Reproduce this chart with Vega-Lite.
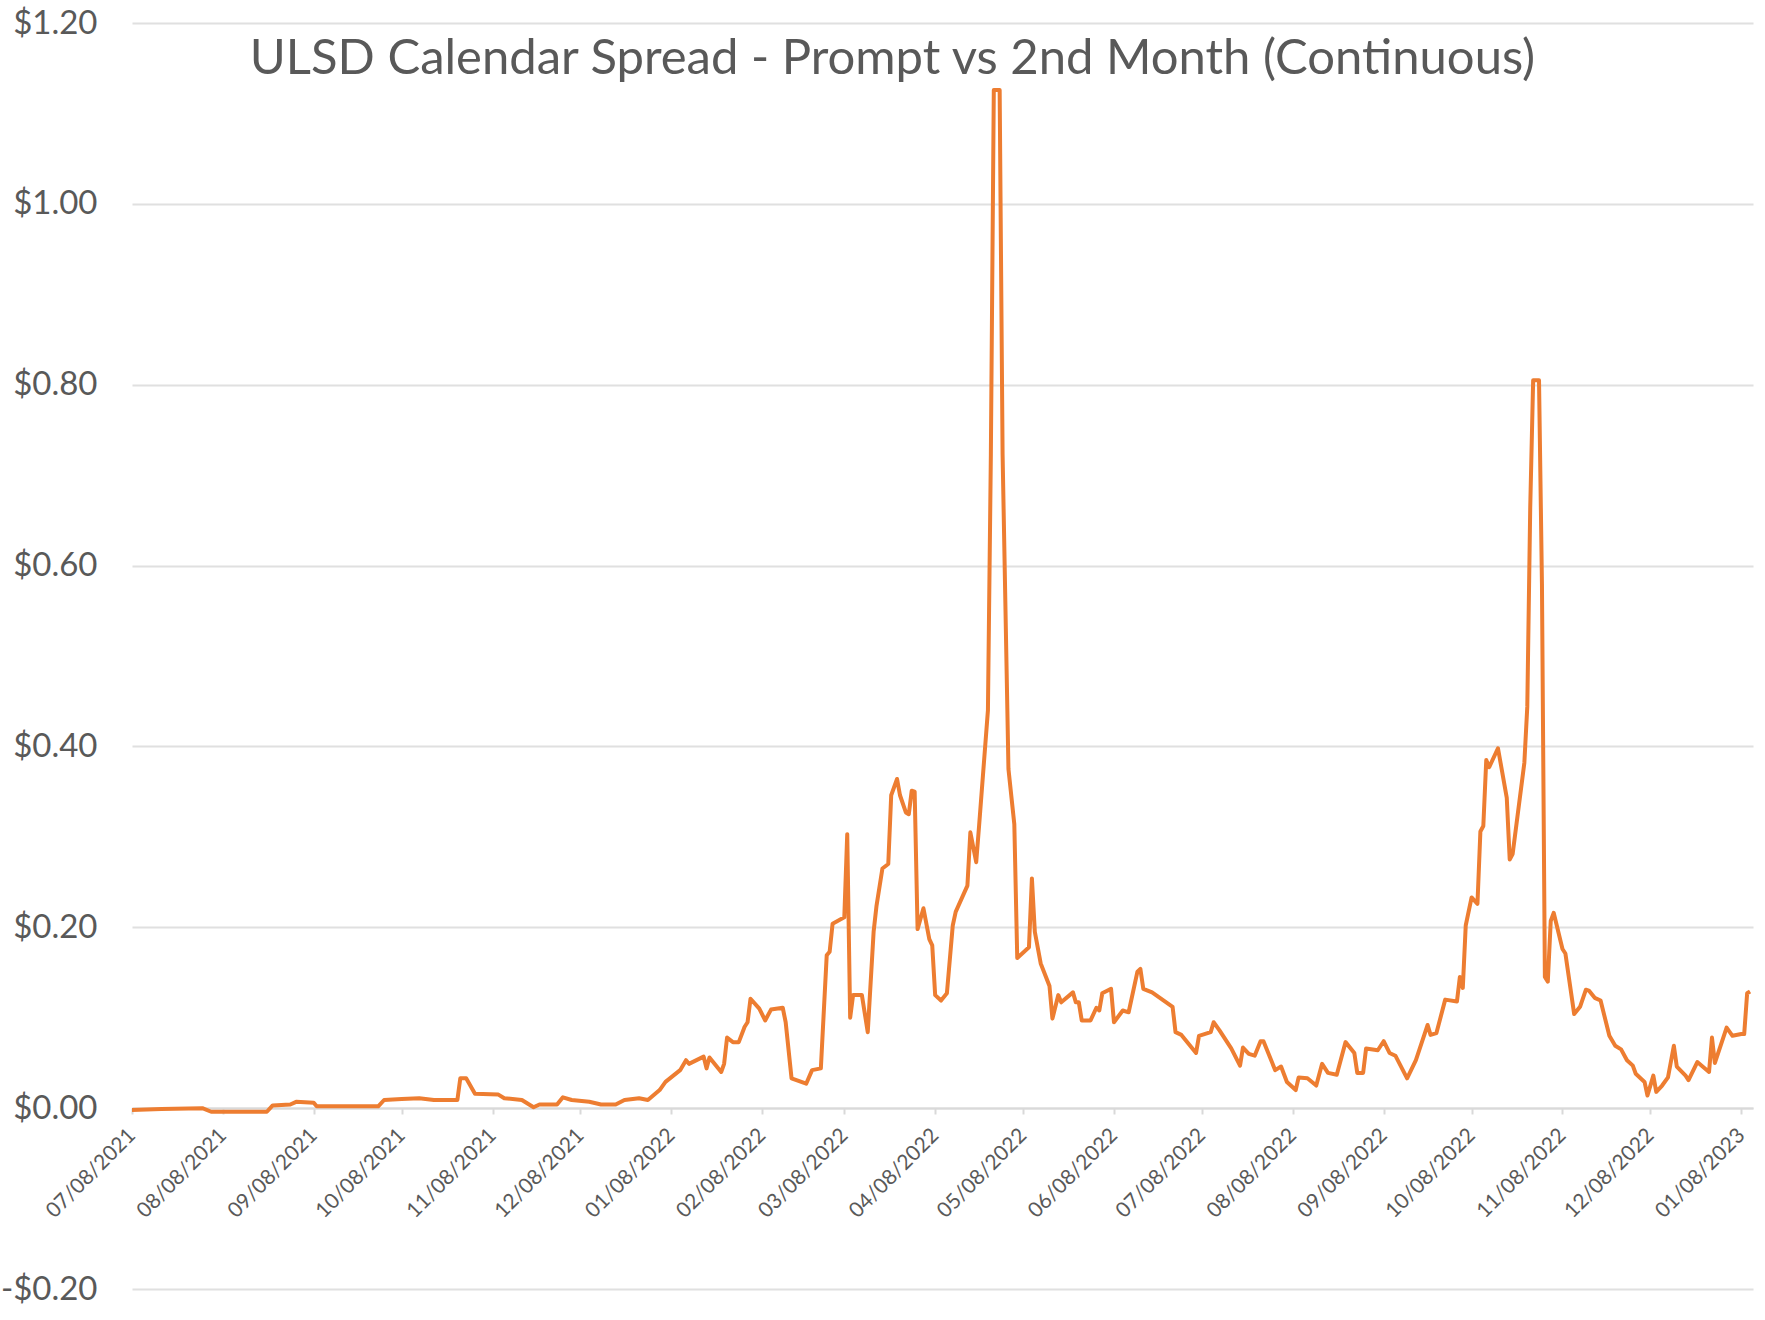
{
  "$schema": "https://vega.github.io/schema/vega-lite/v6.json",
  "autosize": "none",
  "padding": {"left": 132, "top": 23, "right": 12, "bottom": 31},
  "width": 1621,
  "height": 1266,
  "background": "white",
  "title": {
    "text": "ULSD Calendar Spread - Prompt vs 2nd Month (Continuous)",
    "anchor": "middle",
    "frame": "group",
    "dx": -50,
    "dy": 116,
    "offset": 0,
    "baseline": "alphabetic",
    "font": "Lato",
    "fontSize": 49,
    "fontWeight": "normal",
    "color": "#595959"
  },
  "data": {
    "values": [
      {"d": "2021-07-08", "v": -0.002}, {"d": "2021-07-18", "v": -0.001}, {"d": "2021-08-01", "v": 0.0},
      {"d": "2021-08-04", "v": -0.004}, {"d": "2021-08-16", "v": -0.004}, {"d": "2021-08-23", "v": -0.004},
      {"d": "2021-08-25", "v": 0.003}, {"d": "2021-08-31", "v": 0.004}, {"d": "2021-09-02", "v": 0.007},
      {"d": "2021-09-08", "v": 0.006}, {"d": "2021-09-09", "v": 0.002}, {"d": "2021-09-30", "v": 0.002},
      {"d": "2021-10-02", "v": 0.009}, {"d": "2021-10-08", "v": 0.010}, {"d": "2021-10-14", "v": 0.011},
      {"d": "2021-10-19", "v": 0.009}, {"d": "2021-10-27", "v": 0.009}, {"d": "2021-10-28", "v": 0.033},
      {"d": "2021-10-30", "v": 0.033}, {"d": "2021-11-02", "v": 0.016}, {"d": "2021-11-10", "v": 0.015},
      {"d": "2021-11-12", "v": 0.011}, {"d": "2021-11-18", "v": 0.009}, {"d": "2021-11-22", "v": 0.001},
      {"d": "2021-11-24", "v": 0.004}, {"d": "2021-11-30", "v": 0.004}, {"d": "2021-12-02", "v": 0.012},
      {"d": "2021-12-05", "v": 0.009}, {"d": "2021-12-11", "v": 0.007}, {"d": "2021-12-15", "v": 0.004},
      {"d": "2021-12-20", "v": 0.004}, {"d": "2021-12-23", "v": 0.009}, {"d": "2021-12-28", "v": 0.011},
      {"d": "2021-12-31", "v": 0.009}, {"d": "2022-01-04", "v": 0.020}, {"d": "2022-01-06", "v": 0.029},
      {"d": "2022-01-11", "v": 0.042}, {"d": "2022-01-13", "v": 0.053}, {"d": "2022-01-14", "v": 0.049},
      {"d": "2022-01-19", "v": 0.057}, {"d": "2022-01-20", "v": 0.044}, {"d": "2022-01-21", "v": 0.056},
      {"d": "2022-01-25", "v": 0.040}, {"d": "2022-01-26", "v": 0.049}, {"d": "2022-01-27", "v": 0.078},
      {"d": "2022-01-29", "v": 0.073}, {"d": "2022-01-31", "v": 0.073}, {"d": "2022-02-02", "v": 0.090},
      {"d": "2022-02-03", "v": 0.095}, {"d": "2022-02-04", "v": 0.121}, {"d": "2022-02-07", "v": 0.110},
      {"d": "2022-02-09", "v": 0.097}, {"d": "2022-02-11", "v": 0.109}, {"d": "2022-02-15", "v": 0.111},
      {"d": "2022-02-16", "v": 0.095}, {"d": "2022-02-18", "v": 0.033}, {"d": "2022-02-23", "v": 0.027},
      {"d": "2022-02-25", "v": 0.042}, {"d": "2022-02-28", "v": 0.044}, {"d": "2022-03-02", "v": 0.169},
      {"d": "2022-03-03", "v": 0.173}, {"d": "2022-03-04", "v": 0.204}, {"d": "2022-03-08", "v": 0.211},
      {"d": "2022-03-09", "v": 0.303}, {"d": "2022-03-10", "v": 0.100}, {"d": "2022-03-11", "v": 0.125},
      {"d": "2022-03-14", "v": 0.125}, {"d": "2022-03-16", "v": 0.084}, {"d": "2022-03-18", "v": 0.195},
      {"d": "2022-03-19", "v": 0.224}, {"d": "2022-03-21", "v": 0.265}, {"d": "2022-03-23", "v": 0.270},
      {"d": "2022-03-24", "v": 0.346}, {"d": "2022-03-26", "v": 0.364}, {"d": "2022-03-27", "v": 0.346},
      {"d": "2022-03-29", "v": 0.327}, {"d": "2022-03-30", "v": 0.325}, {"d": "2022-03-31", "v": 0.351},
      {"d": "2022-04-01", "v": 0.350}, {"d": "2022-04-02", "v": 0.198}, {"d": "2022-04-04", "v": 0.221},
      {"d": "2022-04-06", "v": 0.187}, {"d": "2022-04-07", "v": 0.180}, {"d": "2022-04-08", "v": 0.125},
      {"d": "2022-04-10", "v": 0.119}, {"d": "2022-04-12", "v": 0.127}, {"d": "2022-04-14", "v": 0.202},
      {"d": "2022-04-15", "v": 0.217}, {"d": "2022-04-19", "v": 0.246}, {"d": "2022-04-20", "v": 0.305},
      {"d": "2022-04-22", "v": 0.272}, {"d": "2022-04-23", "v": 0.313}, {"d": "2022-04-26", "v": 0.440},
      {"d": "2022-04-27", "v": 0.723}, {"d": "2022-04-28", "v": 1.126}, {"d": "2022-04-30", "v": 1.126},
      {"d": "2022-05-01", "v": 0.723}, {"d": "2022-05-03", "v": 0.375}, {"d": "2022-05-05", "v": 0.314},
      {"d": "2022-05-06", "v": 0.166}, {"d": "2022-05-10", "v": 0.178}, {"d": "2022-05-11", "v": 0.254},
      {"d": "2022-05-12", "v": 0.195}, {"d": "2022-05-14", "v": 0.160}, {"d": "2022-05-17", "v": 0.135},
      {"d": "2022-05-18", "v": 0.099}, {"d": "2022-05-20", "v": 0.125}, {"d": "2022-05-21", "v": 0.117},
      {"d": "2022-05-25", "v": 0.128}, {"d": "2022-05-26", "v": 0.117}, {"d": "2022-05-27", "v": 0.117},
      {"d": "2022-05-28", "v": 0.097}, {"d": "2022-05-31", "v": 0.097}, {"d": "2022-06-02", "v": 0.111},
      {"d": "2022-06-03", "v": 0.108}, {"d": "2022-06-04", "v": 0.127}, {"d": "2022-06-07", "v": 0.132},
      {"d": "2022-06-08", "v": 0.095}, {"d": "2022-06-11", "v": 0.108}, {"d": "2022-06-13", "v": 0.106},
      {"d": "2022-06-16", "v": 0.151}, {"d": "2022-06-17", "v": 0.154}, {"d": "2022-06-18", "v": 0.132},
      {"d": "2022-06-21", "v": 0.128}, {"d": "2022-06-28", "v": 0.112}, {"d": "2022-06-29", "v": 0.084},
      {"d": "2022-07-01", "v": 0.081}, {"d": "2022-07-06", "v": 0.061}, {"d": "2022-07-07", "v": 0.080},
      {"d": "2022-07-11", "v": 0.084}, {"d": "2022-07-12", "v": 0.095}, {"d": "2022-07-14", "v": 0.086},
      {"d": "2022-07-18", "v": 0.066}, {"d": "2022-07-21", "v": 0.047}, {"d": "2022-07-22", "v": 0.067},
      {"d": "2022-07-24", "v": 0.060}, {"d": "2022-07-26", "v": 0.058}, {"d": "2022-07-28", "v": 0.074},
      {"d": "2022-07-29", "v": 0.074}, {"d": "2022-08-02", "v": 0.042}, {"d": "2022-08-04", "v": 0.046},
      {"d": "2022-08-06", "v": 0.029}, {"d": "2022-08-09", "v": 0.020}, {"d": "2022-08-10", "v": 0.034},
      {"d": "2022-08-13", "v": 0.033}, {"d": "2022-08-16", "v": 0.025}, {"d": "2022-08-18", "v": 0.049},
      {"d": "2022-08-20", "v": 0.039}, {"d": "2022-08-23", "v": 0.037}, {"d": "2022-08-26", "v": 0.073},
      {"d": "2022-08-29", "v": 0.061}, {"d": "2022-08-30", "v": 0.039}, {"d": "2022-09-01", "v": 0.039},
      {"d": "2022-09-02", "v": 0.066}, {"d": "2022-09-06", "v": 0.064}, {"d": "2022-09-08", "v": 0.074},
      {"d": "2022-09-10", "v": 0.061}, {"d": "2022-09-12", "v": 0.058}, {"d": "2022-09-16", "v": 0.033},
      {"d": "2022-09-19", "v": 0.053}, {"d": "2022-09-23", "v": 0.092}, {"d": "2022-09-24", "v": 0.081},
      {"d": "2022-09-26", "v": 0.083}, {"d": "2022-09-29", "v": 0.120}, {"d": "2022-10-03", "v": 0.118},
      {"d": "2022-10-04", "v": 0.145}, {"d": "2022-10-05", "v": 0.133}, {"d": "2022-10-06", "v": 0.202},
      {"d": "2022-10-08", "v": 0.233}, {"d": "2022-10-10", "v": 0.226}, {"d": "2022-10-11", "v": 0.306},
      {"d": "2022-10-12", "v": 0.312}, {"d": "2022-10-13", "v": 0.385}, {"d": "2022-10-14", "v": 0.377},
      {"d": "2022-10-17", "v": 0.398}, {"d": "2022-10-20", "v": 0.343}, {"d": "2022-10-21", "v": 0.275},
      {"d": "2022-10-22", "v": 0.281}, {"d": "2022-10-26", "v": 0.382}, {"d": "2022-10-27", "v": 0.444},
      {"d": "2022-10-28", "v": 0.664}, {"d": "2022-10-29", "v": 0.805}, {"d": "2022-10-31", "v": 0.805},
      {"d": "2022-11-01", "v": 0.580}, {"d": "2022-11-02", "v": 0.145}, {"d": "2022-11-03", "v": 0.140},
      {"d": "2022-11-04", "v": 0.207}, {"d": "2022-11-05", "v": 0.216}, {"d": "2022-11-08", "v": 0.176},
      {"d": "2022-11-09", "v": 0.171}, {"d": "2022-11-12", "v": 0.104}, {"d": "2022-11-14", "v": 0.112},
      {"d": "2022-11-16", "v": 0.131}, {"d": "2022-11-17", "v": 0.130}, {"d": "2022-11-19", "v": 0.122},
      {"d": "2022-11-21", "v": 0.119}, {"d": "2022-11-24", "v": 0.080}, {"d": "2022-11-26", "v": 0.069},
      {"d": "2022-11-28", "v": 0.065}, {"d": "2022-11-30", "v": 0.053}, {"d": "2022-12-02", "v": 0.047},
      {"d": "2022-12-03", "v": 0.038}, {"d": "2022-12-06", "v": 0.029}, {"d": "2022-12-07", "v": 0.014},
      {"d": "2022-12-09", "v": 0.036}, {"d": "2022-12-10", "v": 0.018}, {"d": "2022-12-12", "v": 0.025},
      {"d": "2022-12-14", "v": 0.034}, {"d": "2022-12-16", "v": 0.069}, {"d": "2022-12-17", "v": 0.046},
      {"d": "2022-12-20", "v": 0.036}, {"d": "2022-12-21", "v": 0.031}, {"d": "2022-12-24", "v": 0.051},
      {"d": "2022-12-28", "v": 0.040}, {"d": "2022-12-29", "v": 0.078}, {"d": "2022-12-30", "v": 0.050},
      {"d": "2023-01-03", "v": 0.089}, {"d": "2023-01-05", "v": 0.080}, {"d": "2023-01-08", "v": 0.082},
      {"d": "2023-01-09", "v": 0.082}, {"d": "2023-01-10", "v": 0.127}, {"d": "2023-01-11", "v": 0.129}
    ]
  },
  "mark": {"type": "line", "color": "#ED7D31", "strokeWidth": 4, "strokeJoin": "round", "clip": true},
  "encoding": {
    "x": {
      "field": "d",
      "type": "temporal",
      "scale": {
        "type": "utc",
        "domain": [
          {"year": 2021, "month": 7, "date": 8, "utc": true},
          {"year": 2023, "month": 1, "date": 12, "utc": true}
        ],
        "nice": false
      },
      "axis": {
        "title": null,
        "grid": false,
        "offset": -181,
        "values": [
          {"year": 2021, "month": 7, "date": 8, "utc": true},
          {"year": 2021, "month": 8, "date": 8, "utc": true},
          {"year": 2021, "month": 9, "date": 8, "utc": true},
          {"year": 2021, "month": 10, "date": 8, "utc": true},
          {"year": 2021, "month": 11, "date": 8, "utc": true},
          {"year": 2021, "month": 12, "date": 8, "utc": true},
          {"year": 2022, "month": 1, "date": 8, "utc": true},
          {"year": 2022, "month": 2, "date": 8, "utc": true},
          {"year": 2022, "month": 3, "date": 8, "utc": true},
          {"year": 2022, "month": 4, "date": 8, "utc": true},
          {"year": 2022, "month": 5, "date": 8, "utc": true},
          {"year": 2022, "month": 6, "date": 8, "utc": true},
          {"year": 2022, "month": 7, "date": 8, "utc": true},
          {"year": 2022, "month": 8, "date": 8, "utc": true},
          {"year": 2022, "month": 9, "date": 8, "utc": true},
          {"year": 2022, "month": 10, "date": 8, "utc": true},
          {"year": 2022, "month": 11, "date": 8, "utc": true},
          {"year": 2022, "month": 12, "date": 8, "utc": true},
          {"year": 2023, "month": 1, "date": 8, "utc": true}
        ],
        "format": "%m/%d/%Y",
        "labelAngle": -45,
        "labelAlign": "right",
        "labelBaseline": "middle",
        "labelFont": "Lato",
        "labelFontSize": 21,
        "labelColor": "#595959",
        "labelPadding": 18,
        "labelOverlap": false,
        "labelFlush": false,
        "tickColor": "#d9d9d9",
        "tickWidth": 2,
        "tickSize": 6,
        "domainColor": "#d9d9d9",
        "domainWidth": 2
      }
    },
    "y": {
      "field": "v",
      "type": "quantitative",
      "scale": {"domain": [-0.2, 1.2], "nice": false, "zero": false},
      "axis": {
        "title": null,
        "values": [-0.2, 0, 0.2, 0.4, 0.6, 0.8, 1.0, 1.2],
        "labelExpr": "datum.value < 0 ? '-$' + format(-datum.value, '.2f') : '$' + format(datum.value, '.2f')",
        "domain": false,
        "ticks": false,
        "grid": true,
        "gridColor": "#e0e0e0",
        "gridWidth": 2,
        "labelFont": "Lato",
        "labelFontSize": 33,
        "labelColor": "#595959",
        "labelPadding": 35
      }
    }
  },
  "config": {"view": {"stroke": null}}
}
